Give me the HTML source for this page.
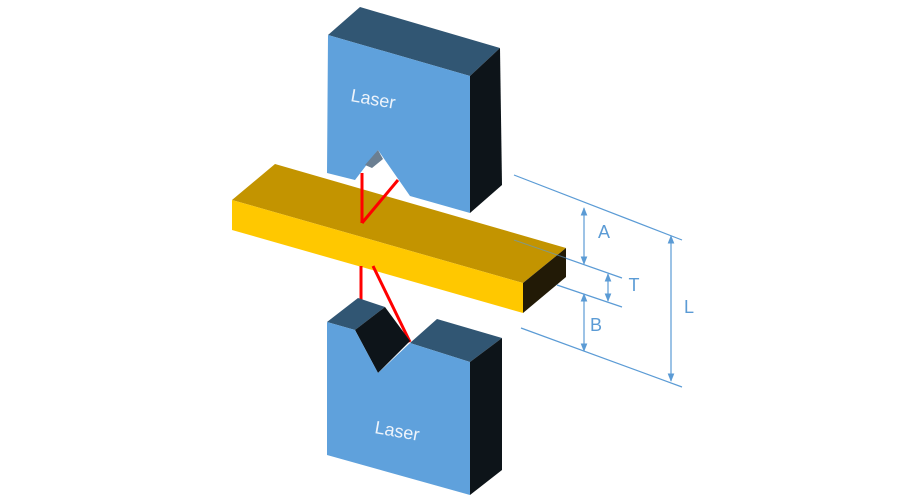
<!DOCTYPE html>
<html><head><meta charset="utf-8"><style>body{margin:0;background:#fff}svg{display:block}</style></head>
<body>
<svg width="900" height="500" viewBox="0 0 900 500" xmlns="http://www.w3.org/2000/svg" font-family="Liberation Sans, sans-serif">
<defs>
<marker id="ar" viewBox="0 0 10 10" refX="9" refY="5" markerWidth="7" markerHeight="7" orient="auto-start-reverse"><path d="M0,1 L10,5 L0,9 z" fill="#5b9bd5"/></marker>
</defs>
<!-- top block -->
<polygon points="328,35 360,7 500,48 470,76" fill="#315673"/>
<polygon points="470,76 500,48 502,185 470,213" fill="#0d1419"/>
<polygon points="328,35 470,76 470,213 410,196 378,150 355,180 327,173" fill="#5fa1dc"/>
<polygon points="365,165 378,150 383,159 372,168" fill="#6b7f92"/>
<text x="373" y="105" font-size="18" fill="#eef4fb" transform="rotate(10 373 100)" text-anchor="middle">Laser</text>
<!-- dimension lines -->
<g stroke="#5b9bd5" stroke-width="1.2" fill="none">
<line x1="514" y1="175" x2="682" y2="240"/>
<line x1="514" y1="240" x2="622" y2="278"/>
<line x1="557" y1="285" x2="622" y2="307"/>
<line x1="521" y1="328" x2="682" y2="387"/>
<line x1="584" y1="208" x2="584" y2="264" marker-start="url(#ar)" marker-end="url(#ar)"/>
<line x1="608" y1="274" x2="608" y2="301" marker-start="url(#ar)" marker-end="url(#ar)"/>
<line x1="584" y1="294" x2="584" y2="351" marker-start="url(#ar)" marker-end="url(#ar)"/>
<line x1="671" y1="236" x2="671" y2="381" marker-start="url(#ar)" marker-end="url(#ar)"/>
</g>
<g fill="#5b9bd5" font-size="18" text-anchor="middle">
<text x="604" y="238">A</text><text x="634" y="291">T</text><text x="596" y="331">B</text><text x="689" y="313">L</text>
</g>
<!-- bar -->
<polygon points="275,164 566,248 523,283 232,200" fill="#c39400"/>
<polygon points="232,200 523,283 523,313 232,230" fill="#ffc800"/>
<polygon points="523,283 566,248 566,277 523,313" fill="#221a06"/>
<line x1="514" y1="240" x2="566" y2="258" stroke="#5b9bd5" stroke-width="1" opacity="0.6"/>
<!-- red upper -->
<line x1="362" y1="173" x2="362" y2="223" stroke="#ff0000" stroke-width="3"/>
<line x1="398" y1="180" x2="362" y2="223" stroke="#ff0000" stroke-width="3"/>
<!-- red lower -->
<line x1="361" y1="266" x2="361" y2="305" stroke="#ff0000" stroke-width="3"/>
<line x1="373" y1="266" x2="410" y2="342" stroke="#ff0000" stroke-width="3"/>
<!-- bottom block -->
<polygon points="327,322 358,298 385,307 355,330" fill="#315673"/>
<polygon points="355,330 385,307 410,341 378,373" fill="#0d1419"/>
<polygon points="410,343 437,319 502,338 470,362" fill="#315673"/>
<polygon points="470,362 502,338 502,470 470,495" fill="#0d1419"/>
<polygon points="327,322 355,330 378,373 410,343 470,362 470,495 327,455" fill="#5fa1dc"/>
<text x="397" y="437" font-size="18" fill="#eef4fb" transform="rotate(10 397 432)" text-anchor="middle">Laser</text>
</svg>
</body></html>
